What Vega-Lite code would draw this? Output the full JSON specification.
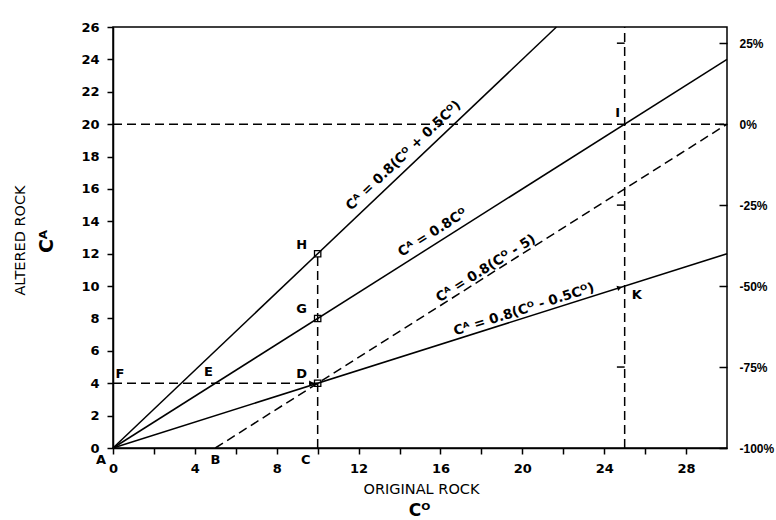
{
  "$schema": "https://vega.github.io/schema/vega-lite/v6.json",
  "width": 614,
  "height": 421,
  "autosize": "none",
  "padding": {"left": 113, "top": 27, "right": 49, "bottom": 72},
  "background": "white",
  "config": {
    "view": {"stroke": "black", "strokeWidth": 1.5},
    "axis": {
      "grid": false, "labelFlush": false,
      "domainColor": "black", "domainWidth": 1.5,
      "tickColor": "black", "tickWidth": 1.5,
      "labelColor": "black", "labelFont": "DejaVu Sans", "labelFontSize": 13, "labelFontWeight": "bold",
      "titleColor": "black", "titleFont": "DejaVu Sans", "titleFontWeight": "normal", "titleFontSize": 14.5
    },
    "text": {"font": "DejaVu Sans", "fontWeight": "bold", "fontSize": 13, "color": "black"}
  },
  "datasets": {
    "solid": [
      {"s": "a", "x": 0, "y": 0}, {"s": "a", "x": 21.667, "y": 26},
      {"s": "b", "x": 0, "y": 0}, {"s": "b", "x": 30, "y": 24},
      {"s": "c", "x": 0, "y": 0}, {"s": "c", "x": 30, "y": 12}
    ],
    "dashed": [
      {"s": "d", "x": 5, "y": 0}, {"s": "d", "x": 30, "y": 20},
      {"s": "h20", "x": 0, "y": 20}, {"s": "h20", "x": 30, "y": 20},
      {"s": "h4", "x": 0, "y": 4}, {"s": "h4", "x": 10, "y": 4},
      {"s": "v10", "x": 10, "y": 0}, {"s": "v10", "x": 10, "y": 12},
      {"s": "v25", "x": 25, "y": 0}, {"s": "v25", "x": 25, "y": 26}
    ],
    "pts": [
      {"p": "H", "x": 10, "y": 12}, {"p": "G", "x": 10, "y": 8}, {"p": "D", "x": 10, "y": 4}
    ],
    "arrowsH": [{"p": "D", "x": 9.7, "y": 4}],
    "arrowsK": [{"p": "K", "x": 24.75, "y": 9.9}],
    "stubs": [
      {"x": 24.62, "x2": 25, "y": 25}, {"x": 24.62, "x2": 25, "y": 15}, {"x": 24.62, "x2": 25, "y": 5}
    ],
    "plabels": [
      {"t": "A", "x": 0, "y": 0, "g": "bl"},
      {"t": "C", "x": 10, "y": 0, "g": "bl"},
      {"t": "B", "x": 5, "y": 0, "g": "b"},
      {"t": "D", "x": 10, "y": 4, "g": "ul"},
      {"t": "G", "x": 10, "y": 8, "g": "ul"},
      {"t": "H", "x": 10, "y": 12, "g": "ul"},
      {"t": "E", "x": 5, "y": 4, "g": "u"},
      {"t": "I", "x": 25, "y": 20, "g": "u"},
      {"t": "F", "x": 0, "y": 4, "g": "ur"},
      {"t": "K", "x": 25, "y": 10, "g": "br"}
    ],
    "llabels": [
      {"t": "Cᴬ = 0.8(Cᴼ + 0.5Cᴼ)", "x": 14.6, "y": 17.52, "g": "steep"},
      {"t": "Cᴬ = 0.8Cᴼ", "x": 15.9, "y": 12.72, "g": "mid2"},
      {"t": "Cᴬ = 0.8(Cᴼ - 5)", "x": 18.4, "y": 10.72, "g": "mid"},
      {"t": "Cᴬ = 0.8(Cᴼ - 0.5Cᴼ)", "x": 20.2, "y": 8.08, "g": "flat"}
    ]
  },
  "resolve": {"axis": {"x": "independent", "y": "independent"}},
  "layer": [
    {
      "data": {"name": "solid"},
      "mark": {"type": "line", "color": "black", "strokeWidth": 1.5},
      "encoding": {
        "x": {"field": "x", "type": "quantitative",
          "scale": {"domain": [0, 30], "nice": false, "zero": false},
          "axis": {"orient": "bottom", "values": [0,2,4,6,8,10,12,14,16,18,20,22,24,26,28],
            "labelExpr": "datum.value % 4 === 0 ? datum.label : ''",
            "tickSize": 6, "labelPadding": 8,
            "title": "ORIGINAL ROCK", "titleX": 308, "titleY": 41, "titleAlign": "center", "titleBaseline": "middle"}},
        "y": {"field": "y", "type": "quantitative",
          "scale": {"domain": [0, 26], "nice": false, "zero": false},
          "axis": {"orient": "left", "values": [0,2,4,6,8,10,12,14,16,18,20,22,24,26],
            "tickSize": 6, "labelPadding": 8,
            "title": "ALTERED ROCK", "titleX": -93, "titleY": 213, "titleAngle": -90, "titleAlign": "center", "titleBaseline": "middle"}},
        "detail": {"field": "s"}
      }
    },
    {
      "data": {"name": "dashed"},
      "mark": {"type": "line", "color": "black", "strokeWidth": 1.5, "strokeDash": [9, 5]},
      "encoding": {
        "x": {"field": "x", "type": "quantitative", "axis": null},
        "y": {"field": "y", "type": "quantitative",
          "axis": {"orient": "right", "values": [0, 5, 10, 15, 20, 25],
            "labelExpr": "datum.value === 20 ? '0%' : ((datum.value - 20) * 5) + '%'",
            "tickSize": -8, "labelPadding": 20, "labelFont": "Liberation Sans", "labelFontSize": 12, "domain": false, "title": null}},
        "detail": {"field": "s"}
      }
    },
    {
      "data": {"name": "stubs"},
      "mark": {"type": "rule", "color": "black", "strokeWidth": 1.5},
      "encoding": {
        "x": {"field": "x", "type": "quantitative",
          "axis": {"orient": "bottom", "labels": false, "ticks": false, "domain": false,
            "title": "Cᴼ", "titleFontSize": 17, "titleFontWeight": "bold", "titleX": 306, "titleY": 62, "titleAlign": "center", "titleBaseline": "middle"}},
        "x2": {"field": "x2"},
        "y": {"field": "y", "type": "quantitative",
          "axis": {"orient": "left", "labels": false, "ticks": false, "domain": false,
            "title": "Cᴬ", "titleFontSize": 19, "titleFontWeight": "bold", "titleX": -67, "titleY": 214, "titleAngle": -90, "titleAlign": "center", "titleBaseline": "middle"}}
      }
    },
    {
      "data": {"name": "pts"},
      "mark": {"type": "point", "shape": "square", "size": 40, "color": "black", "strokeWidth": 1.3, "filled": false, "opacity": 1},
      "encoding": {
        "x": {"field": "x", "type": "quantitative", "axis": null},
        "y": {"field": "y", "type": "quantitative", "axis": null}
      }
    },
    {
      "data": {"name": "arrowsH"},
      "mark": {"type": "point", "shape": "triangle-right", "size": 30, "color": "black", "filled": true, "opacity": 1},
      "encoding": {
        "x": {"field": "x", "type": "quantitative", "axis": null},
        "y": {"field": "y", "type": "quantitative", "axis": null}
      }
    },
    {
      "data": {"name": "arrowsK"},
      "mark": {"type": "point", "shape": "triangle-right", "size": 30, "angle": 342.4, "color": "black", "filled": true, "opacity": 1},
      "encoding": {
        "x": {"field": "x", "type": "quantitative", "axis": null},
        "y": {"field": "y", "type": "quantitative", "axis": null}
      }
    },
    {
      "data": {"name": "plabels"},
      "transform": [{"filter": "datum.g === 'bl'"}],
      "mark": {"type": "text", "dx": -12, "dy": 12},
      "encoding": {
        "x": {"field": "x", "type": "quantitative", "axis": null},
        "y": {"field": "y", "type": "quantitative", "axis": null},
        "text": {"field": "t"}
      }
    },
    {
      "data": {"name": "plabels"},
      "transform": [{"filter": "datum.g === 'b'"}],
      "mark": {"type": "text", "dx": 0, "dy": 12},
      "encoding": {
        "x": {"field": "x", "type": "quantitative", "axis": null},
        "y": {"field": "y", "type": "quantitative", "axis": null},
        "text": {"field": "t"}
      }
    },
    {
      "data": {"name": "plabels"},
      "transform": [{"filter": "datum.g === 'ul'"}],
      "mark": {"type": "text", "dx": -16, "dy": -9},
      "encoding": {
        "x": {"field": "x", "type": "quantitative", "axis": null},
        "y": {"field": "y", "type": "quantitative", "axis": null},
        "text": {"field": "t"}
      }
    },
    {
      "data": {"name": "plabels"},
      "transform": [{"filter": "datum.g === 'u'"}],
      "mark": {"type": "text", "dx": -7, "dy": -11},
      "encoding": {
        "x": {"field": "x", "type": "quantitative", "axis": null},
        "y": {"field": "y", "type": "quantitative", "axis": null},
        "text": {"field": "t"}
      }
    },
    {
      "data": {"name": "plabels"},
      "transform": [{"filter": "datum.g === 'ur'"}],
      "mark": {"type": "text", "dx": 7, "dy": -9},
      "encoding": {
        "x": {"field": "x", "type": "quantitative", "axis": null},
        "y": {"field": "y", "type": "quantitative", "axis": null},
        "text": {"field": "t"}
      }
    },
    {
      "data": {"name": "plabels"},
      "transform": [{"filter": "datum.g === 'br'"}],
      "mark": {"type": "text", "dx": 12, "dy": 9},
      "encoding": {
        "x": {"field": "x", "type": "quantitative", "axis": null},
        "y": {"field": "y", "type": "quantitative", "axis": null},
        "text": {"field": "t"}
      }
    },
    {
      "data": {"name": "llabels"},
      "transform": [{"filter": "datum.g === 'steep'"}],
      "mark": {"type": "text", "angle": 316.5, "baseline": "alphabetic", "align": "center", "dy": -8, "fontSize": 13.5},
      "encoding": {
        "x": {"field": "x", "type": "quantitative", "axis": null},
        "y": {"field": "y", "type": "quantitative", "axis": null},
        "text": {"field": "t"}
      }
    },
    {
      "data": {"name": "llabels"},
      "transform": [{"filter": "datum.g === 'mid2'"}],
      "mark": {"type": "text", "angle": 327.7, "baseline": "alphabetic", "align": "center", "dy": -7, "fontSize": 13.5},
      "encoding": {
        "x": {"field": "x", "type": "quantitative", "axis": null},
        "y": {"field": "y", "type": "quantitative", "axis": null},
        "text": {"field": "t"}
      }
    },
    {
      "data": {"name": "llabels"},
      "transform": [{"filter": "datum.g === 'mid'"}],
      "mark": {"type": "text", "angle": 327.7, "baseline": "alphabetic", "align": "center", "dy": -3, "fontSize": 13.5},
      "encoding": {
        "x": {"field": "x", "type": "quantitative", "axis": null},
        "y": {"field": "y", "type": "quantitative", "axis": null},
        "text": {"field": "t"}
      }
    },
    {
      "data": {"name": "llabels"},
      "transform": [{"filter": "datum.g === 'flat'"}],
      "mark": {"type": "text", "angle": 342.4, "baseline": "alphabetic", "align": "center", "dy": -4, "fontSize": 13.5},
      "encoding": {
        "x": {"field": "x", "type": "quantitative", "axis": null},
        "y": {"field": "y", "type": "quantitative", "axis": null},
        "text": {"field": "t"}
      }
    }
  ]
}
